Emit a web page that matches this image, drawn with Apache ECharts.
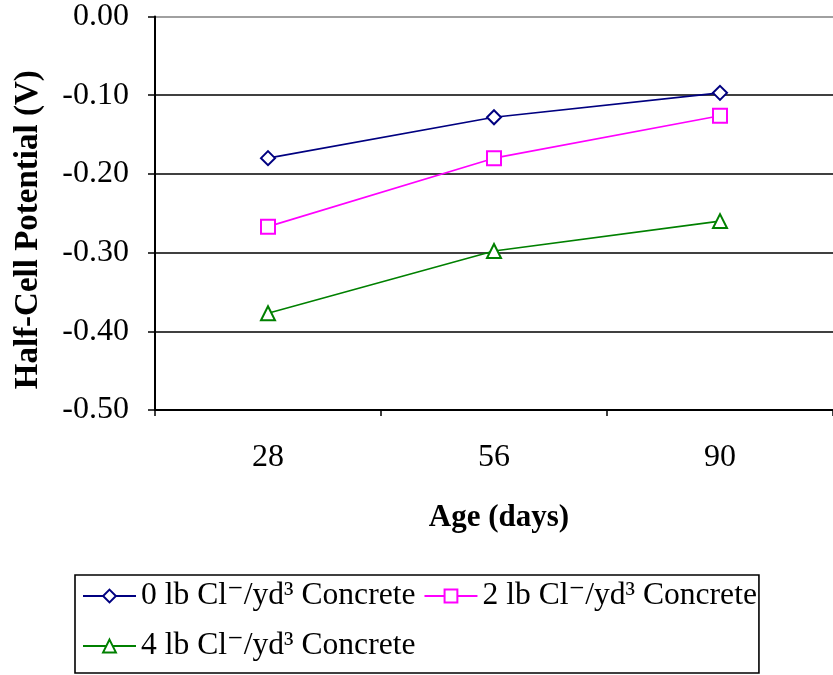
<!DOCTYPE html>
<html>
<head>
<meta charset="utf-8">
<script src="https://cdn.jsdelivr.net/npm/echarts@6/dist/echarts.min.js"></script>
<style>html,body{margin:0;padding:0;background:#fff;}#c{width:833px;height:675px;}</style>
</head>
<body>
<div id="c"></div>
<script>
const categories = ['28', '56', '90'];
const series0lb = [-0.180, -0.128, -0.097];
const series2lb = [-0.267, -0.180, -0.126];
const series4lb = [-0.377, -0.298, -0.260];
const seriesNames = ['0 lb Cl\u207B/yd\u00B3 Concrete', '2 lb Cl\u207B/yd\u00B3 Concrete', '4 lb Cl\u207B/yd\u00B3 Concrete'];
const yTicks = { min: -0.5, max: 0, interval: 0.1 };

const FONT = '"Liberation Serif", "Times New Roman", "DejaVu Serif", serif';
const chart = echarts.init(document.getElementById('c'), null, { renderer: 'canvas' });

function mkSeries(name, data, color, symbol) {
  return {
    name: name, type: 'line', data: data,
    symbol: symbol, symbolSize: 14,
    lineStyle: { color: color, width: 1.6 },
    itemStyle: { color: color, borderColor: color, borderWidth: 1.8 },
    emphasis: { disabled: true },
    animation: false
  };
}

chart.setOption({
  animation: false,
  grid: { left: 155, top: 16.5, width: 681, height: 393.5, containLabel: false },
  xAxis: {
    type: 'category', data: categories, boundaryGap: true,
    axisLine: { onZero: false, lineStyle: { color: '#000', width: 2 } },
    axisTick: { show: true, length: 6, inside: false, lineStyle: { color: '#000', width: 1.5 } },
    axisLabel: { color: '#000', fontFamily: FONT, fontSize: 32, margin: 32 },
    name: 'Age (days)', nameLocation: 'middle', nameGap: 92,
    nameTextStyle: { color: '#000', fontFamily: FONT, fontSize: 31, fontWeight: 'bold', padding: [0, 0, 0, 10] },
    splitLine: { show: false }
  },
  yAxis: {
    type: 'value', min: yTicks.min, max: yTicks.max, interval: yTicks.interval,
    axisLine: { show: true, lineStyle: { color: '#000', width: 2 } },
    axisTick: { show: true, length: 7, inside: false, lineStyle: { color: '#000', width: 1.5 } },
    axisLabel: { color: '#000', fontFamily: FONT, fontSize: 32, margin: 26, formatter: v => v.toFixed(2) },
    splitLine: { show: true, lineStyle: { color: ['#000', '#000', '#000', '#000', '#000', '#808080'], width: 1.6 } },
    name: 'Half-Cell Potential (V)', nameLocation: 'middle', nameGap: 110,
    nameTextStyle: { color: '#000', fontFamily: FONT, fontSize: 33, fontWeight: 'bold', padding: [0, 33, 0, 0] }
  },
  legend: {
    left: 75, top: 575,
    orient: 'horizontal',
    itemWidth: 53, itemHeight: 16, itemGap: 8,
    padding: [0, 2, 6, 7],
    borderColor: '#000', borderWidth: 1.6,
    textStyle: { color: '#000', fontFamily: FONT, fontSize: 31.6, lineHeight: 42 },
    data: [seriesNames[0], seriesNames[1], '', seriesNames[2]]
  },
  series: [
    mkSeries(seriesNames[0], series0lb, '#000080', 'emptyDiamond'),
    mkSeries(seriesNames[1], series2lb, '#FF00FF', 'emptyRect'),
    mkSeries(seriesNames[2], series4lb, '#008000', 'emptyTriangle')
  ]
});
</script>
</body>
</html>
